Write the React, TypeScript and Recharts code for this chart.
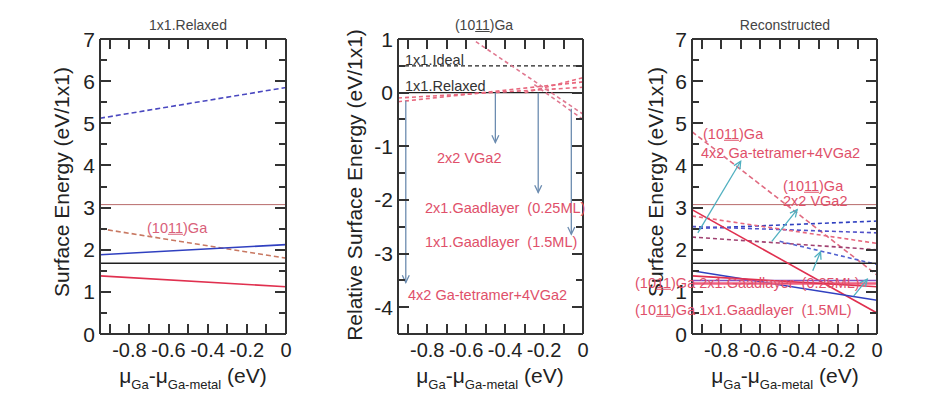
import { LineChart, Line, XAxis, YAxis, ReferenceLine } from "recharts";

type Pt = { x: number; y: number };
type Series = { points: Pt[]; color: string; dash?: string; width?: number };
type Arrow = { from: Pt; to: Pt };

const H = 412;
const PLOT_TOP = 39;
const PLOT_BOTTOM = 334;
const FONT = "'Liberation Sans', Arial, Helvetica, sans-serif";
const AXIS = "#333";

// shared axes
const muDomain: [number, number] = [-0.95, 0];
const muTicks = [-0.9, -0.8, -0.7, -0.6, -0.5, -0.4, -0.3, -0.2, -0.1, 0];
const energyTicks = [0, 0.5, 1, 1.5, 2, 2.5, 3, 3.5, 4, 4.5, 5, 5.5, 6, 6.5, 7];
const relativeTicks = [-4.5, -4, -3.5, -3, -2.5, -2, -1.5, -1, -0.5, 0, 0.5, 1];

// panel 1: 1x1.Relaxed
const relaxedBlueDashed = [{ x: -0.95, y: 5.12 }, { x: 0, y: 5.85 }];
const relaxedBrown = [{ x: -0.95, y: 3.07 }, { x: 0, y: 3.07 }];
const relaxedGaDashed = [{ x: -0.95, y: 2.5 }, { x: 0, y: 1.8 }];
const relaxedBlue = [{ x: -0.95, y: 1.88 }, { x: 0, y: 2.12 }];
const relaxedBlack = [{ x: -0.95, y: 1.68 }, { x: 0, y: 1.68 }];
const relaxedRed = [{ x: -0.95, y: 1.38 }, { x: 0, y: 1.12 }];

// panel 2: (1011)Ga relative
const ideal = [{ x: -0.95, y: 0.5 }, { x: 0, y: 0.5 }];
const relaxedRef = [{ x: -0.95, y: 0 }, { x: 0, y: 0 }];
const vga2 = [{ x: -0.95, y: -0.17 }, { x: 0, y: 0.2 }];
const adlayer025 = [{ x: -0.95, y: -0.1 }, { x: 0, y: 0.1 }];
const adlayer15 = [{ x: -0.3, y: 0 }, { x: 0, y: 0.28 }];
const tetramer = [{ x: -0.55, y: 0.95 }, { x: 0, y: -0.4 }];
const tetramerB = [{ x: -0.25, y: 0.15 }, { x: 0, y: -0.5 }];
const relArrows: Arrow[] = [
  { from: { x: -0.45, y: 0 }, to: { x: -0.45, y: -0.93 } },
  { from: { x: -0.23, y: 0 }, to: { x: -0.23, y: -1.86 } },
  { from: { x: -0.06, y: -0.3 }, to: { x: -0.06, y: -2.64 } },
  { from: { x: -0.91, y: -0.15 }, to: { x: -0.91, y: -3.54 } },
];

// panel 3: Reconstructed
const recBrown = [{ x: -0.95, y: 3.07 }, { x: 0, y: 3.07 }];
const recTetramer = [{ x: -0.95, y: 4.8 }, { x: 0, y: 1.4 }];
const recBlueDashA = [{ x: -0.95, y: 2.5 }, { x: 0, y: 2.68 }];
const recBlueDashB = [{ x: -0.95, y: 2.55 }, { x: 0, y: 2.4 }];
const recPinkDash = [{ x: -0.95, y: 2.8 }, { x: 0, y: 2.15 }];
const recPurpleDash = [{ x: -0.95, y: 2.3 }, { x: 0, y: 2.0 }];
const recBlueDashC = [{ x: -0.5, y: 2.2 }, { x: 0, y: 1.65 }];
const recBlack = [{ x: -0.95, y: 1.68 }, { x: 0, y: 1.68 }];
const recRedSteep = [{ x: -0.95, y: 2.95 }, { x: 0, y: 0.5 }];
const recBlue = [{ x: -0.95, y: 1.5 }, { x: 0, y: 0.8 }];
const recPurple = [{ x: -0.95, y: 1.27 }, { x: 0, y: 1.27 }];
const recPink = [{ x: -0.95, y: 1.2 }, { x: 0, y: 1.2 }];
const recRed = [{ x: -0.95, y: 1.38 }, { x: 0, y: 1.12 }];
const recArrows: Arrow[] = [
  { from: { x: -0.92, y: 2.4 }, to: { x: -0.7, y: 4.1 } },
  { from: { x: -0.54, y: 2.2 }, to: { x: -0.41, y: 2.95 } },
  { from: { x: -0.33, y: 1.5 }, to: { x: -0.29, y: 1.95 } },
  { from: { x: -0.12, y: 0.9 }, to: { x: -0.05, y: 1.3 } },
];

const RED = "#e0304f";
const BLUE = "#3040c0";
const BLACK = "#202020";
const BROWN = "#b86a6a";
const PINK = "#e8687e";

const panel1: Series[] = [
  { points: relaxedBlueDashed, color: "#4a48c0", dash: "5 3" },
  { points: relaxedBrown, color: BROWN, width: 1 },
  { points: relaxedGaDashed, color: "#c87862", dash: "5 3" },
  { points: relaxedBlue, color: BLUE },
  { points: relaxedBlack, color: BLACK },
  { points: relaxedRed, color: RED },
];

const panel2: Series[] = [
  { points: ideal, color: BLACK, dash: "4 3", width: 1.3 },
  { points: relaxedRef, color: BLACK, width: 1.3 },
  { points: vga2, color: PINK, dash: "4 3" },
  { points: adlayer025, color: PINK, dash: "4 3" },
  { points: adlayer15, color: PINK, dash: "4 3" },
  { points: tetramer, color: "#e07890", dash: "4 3" },
  { points: tetramerB, color: "#e07890", dash: "4 3" },
];

const panel3: Series[] = [
  { points: recBrown, color: BROWN, width: 1 },
  { points: recTetramer, color: "#e06a80", dash: "5 3" },
  { points: recBlueDashA, color: BLUE, dash: "4 3" },
  { points: recBlueDashB, color: "#5050c8", dash: "4 3" },
  { points: recPinkDash, color: PINK, dash: "4 3" },
  { points: recPurpleDash, color: "#a04070", dash: "4 3" },
  { points: recBlueDashC, color: "#5060d0", dash: "4 3" },
  { points: recBlack, color: BLACK },
  { points: recRedSteep, color: RED },
  { points: recBlue, color: BLUE },
  { points: recPurple, color: "#8050c0" },
  { points: recPink, color: "#f06080", width: 2.5 },
  { points: recRed, color: RED },
];

const isMajorX = (v: number) => Math.round(v * 10) % 2 === 0;
const isMajorY = (v: number) => Math.abs(v - Math.round(v)) < 1e-6;

function BottomLabel(props: any) {
  const { x, y, payload } = props;
  const v = payload.value;
  if (!isMajorX(v)) return <g />;
  return (
    <text x={x} y={y + 23} textAnchor="middle" fontSize={20} fill="#222" fontFamily={FONT}>
      {v === 0 ? "0" : v.toFixed(1)}
    </text>
  );
}

function LeftLabel(props: any) {
  const { x, y, payload } = props;
  const v = payload.value;
  if (!isMajorY(v)) return <g />;
  return (
    <text x={x - 5} y={y + 7.5} textAnchor="end" fontSize={21} fill="#222" fontFamily={FONT}>
      {Math.round(v)}
    </text>
  );
}

function arrowShape(color: string) {
  return (p: any) => {
    const { x1, y1, x2, y2 } = p;
    const a = Math.atan2(y2 - y1, x2 - x1);
    const L = 8;
    const s = 0.45;
    return (
      <g>
        <line x1={x1} y1={y1} x2={x2} y2={y2} stroke={color} strokeWidth={1.3} />
        <polyline
          points={`${x2 - L * Math.cos(a - s)},${y2 - L * Math.sin(a - s)} ${x2},${y2} ${x2 - L * Math.cos(a + s)},${y2 - L * Math.sin(a + s)}`}
          fill="none"
          stroke={color}
          strokeWidth={1.3}
        />
      </g>
    );
  };
}

// inward tick marks on all four sides, same linear mapping as the axes
function TickFrame({ x0, x1, yDomain, yTicks }: { x0: number; x1: number; yDomain: [number, number]; yTicks: number[] }) {
  const sx = (v: number) => x0 + ((v - muDomain[0]) / (muDomain[1] - muDomain[0])) * (x1 - x0);
  const sy = (v: number) => PLOT_BOTTOM - ((v - yDomain[0]) / (yDomain[1] - yDomain[0])) * (PLOT_BOTTOM - PLOT_TOP);
  const marks: { left: number; top: number; w: number; h: number }[] = [];
  muTicks.forEach((t) => {
    const x = Math.round(sx(t)) - 1;
    marks.push({ left: x, top: PLOT_BOTTOM - 10, w: 2, h: 10 });
    marks.push({ left: x, top: PLOT_TOP, w: 2, h: 10 });
  });
  yTicks.forEach((t) => {
    const y = Math.round(sy(t)) - 1;
    const len = isMajorY(t) ? 11 : 7;
    marks.push({ left: x0, top: y, w: len, h: 2 });
    marks.push({ left: x1 - len, top: y, w: len, h: 2 });
  });
  return (
    <>
      {marks.map((m, i) => (
        <div
          key={i}
          style={{ position: "absolute", left: m.left, top: m.top, width: m.w, height: m.h, background: AXIS }}
        />
      ))}
    </>
  );
}

type PanelProps = {
  left: number;
  width: number;
  plotX0: number;
  plotX1: number;
  yDomain: [number, number];
  yTicks: number[];
  series: Series[];
  arrows?: Arrow[];
  arrowColor?: string;
};

const AX = 1; // axis thickness reserved in layout

function Panel({ left, width, plotX0, plotX1, yDomain, yTicks, series, arrows = [], arrowColor = "#6c8cb0" }: PanelProps) {
  const margin = {
    left: plotX0 - left - AX,
    right: left + width - plotX1 - AX,
    top: PLOT_TOP - AX,
    bottom: H - PLOT_BOTTOM - AX,
  };
  const common = {
    interval: 0 as const,
    tickSize: 0,
    tickMargin: 0,
    tickLine: false,
    allowDataOverflow: true,
    axisLine: { stroke: AXIS, strokeWidth: 2 },
  };
  return (
    <>
      <div style={{ position: "absolute", left, top: 0 }}>
        <LineChart width={width} height={H} margin={margin}>
          <XAxis {...common} type="number" dataKey="x" domain={muDomain} ticks={muTicks} height={AX} tick={<BottomLabel />} />
          <XAxis {...common} xAxisId="top" orientation="top" type="number" domain={muDomain} ticks={muTicks} height={AX} tick={false} />
          <YAxis {...common} type="number" domain={yDomain} ticks={yTicks} width={AX} tick={<LeftLabel />} />
          <YAxis {...common} yAxisId="right" orientation="right" type="number" domain={yDomain} ticks={yTicks} width={AX} tick={false} />
          {series.map((s, i) => (
            <Line
              key={i}
              data={s.points}
              dataKey="y"
              type="linear"
              stroke={s.color}
              strokeWidth={s.width ?? 1.6}
              strokeDasharray={s.dash}
              dot={false}
              activeDot={false}
              isAnimationActive={false}
            />
          ))}
          {arrows.map((a, i) => (
            <ReferenceLine key={`a${i}`} segment={[a.from, a.to]} ifOverflow="visible" shape={arrowShape(arrowColor)} />
          ))}
        </LineChart>
      </div>
      <TickFrame x0={plotX0} x1={plotX1} yDomain={yDomain} yTicks={yTicks} />
    </>
  );
}

function Note({ x, cy, color = "#e0506a", size = 14.5, children }: any) {
  return (
    <div
      style={{
        position: "absolute",
        left: x,
        top: cy,
        transform: "translateY(-50%)",
        color,
        fontSize: size,
        lineHeight: 1,
        whiteSpace: "nowrap",
        fontFamily: FONT,
      }}
    >
      {children}
    </div>
  );
}

function Centered({ cx, cy, size, color = "#222", rotate = false, children }: any) {
  return (
    <div
      style={{
        position: "absolute",
        left: cx,
        top: cy,
        transform: `translate(-50%, -50%)${rotate ? " rotate(-90deg)" : ""}`,
        fontSize: size,
        color,
        lineHeight: 1,
        whiteSpace: "nowrap",
        fontFamily: FONT,
      }}
    >
      {children}
    </div>
  );
}

const Ga = () => (
  <>
    (10<u>11</u>)Ga
  </>
);

function MuLabel({ cx }: { cx: number }) {
  return (
    <Centered cx={cx} cy={378} size={21}>
      μ<sub style={{ fontSize: 13 }}>Ga</sub>-μ<sub style={{ fontSize: 13 }}>Ga-metal</sub> (eV)
    </Centered>
  );
}

export default function App() {
  return (
    <div style={{ position: "absolute", left: 0, top: 0, width: 946, height: H, background: "#fff", overflow: "hidden" }}>
      <Panel left={0} width={310} plotX0={100} plotX1={286} yDomain={[0, 7]} yTicks={energyTicks} series={panel1} />
      <Panel left={310} width={310} plotX0={398} plotX1={583} yDomain={[-4.5, 1]} yTicks={relativeTicks} series={panel2} arrows={relArrows} arrowColor="#6c8cb0" />
      <Panel left={620} width={326} plotX0={692} plotX1={877} yDomain={[0, 7]} yTicks={energyTicks} series={panel3} arrows={recArrows} arrowColor="#50b0c0" />

      {/* titles */}
      <Centered cx={188} cy={25} size={14} color="#444">1x1.Relaxed</Centered>
      <Centered cx={484} cy={25} size={14} color="#444"><Ga /></Centered>
      <Centered cx={785} cy={25} size={14} color="#444">Reconstructed</Centered>

      {/* y labels */}
      <Centered cx={61} cy={182} size={21} rotate>Surface Energy (eV/1x1)</Centered>
      <Centered cx={354} cy={185} size={21} rotate>Relative Surface Energy (eV/1x1)</Centered>
      <Centered cx={655} cy={182} size={21} rotate>Surface Energy (eV/1x1)</Centered>

      {/* x labels */}
      <MuLabel cx={193} />
      <MuLabel cx={490} />
      <MuLabel cx={785} />

      {/* panel 1 notes */}
      <Note x={147} cy={228} color="#d9607a"><Ga /></Note>

      {/* panel 2 notes */}
      <Note x={405} cy={60} color="#333">1x1.Ideal</Note>
      <Note x={405} cy={86} color="#333">1x1.Relaxed</Note>
      <Note x={437} cy={158}>2x2 VGa2</Note>
      <Note x={425} cy={208}>2x1.Gaadlayer&nbsp;&nbsp;(0.25ML)</Note>
      <Note x={425} cy={242}>1x1.Gaadlayer&nbsp;&nbsp;(1.5ML)</Note>
      <Note x={408} cy={295}>4x2 Ga-tetramer+4VGa2</Note>

      {/* panel 3 notes */}
      <Note x={703} cy={134}><Ga /></Note>
      <Note x={701} cy={153}>4x2 Ga-tetramer+4VGa2</Note>
      <Note x={783} cy={186}><Ga /></Note>
      <Note x={783} cy={201}>2x2 VGa2</Note>
      <Note x={635} cy={283}><Ga /> 2x1.Gaadlayer&nbsp;&nbsp;(0.25ML)</Note>
      <Note x={635} cy={310}><Ga /> 1x1.Gaadlayer&nbsp;&nbsp;(1.5ML)</Note>
    </div>
  );
}
